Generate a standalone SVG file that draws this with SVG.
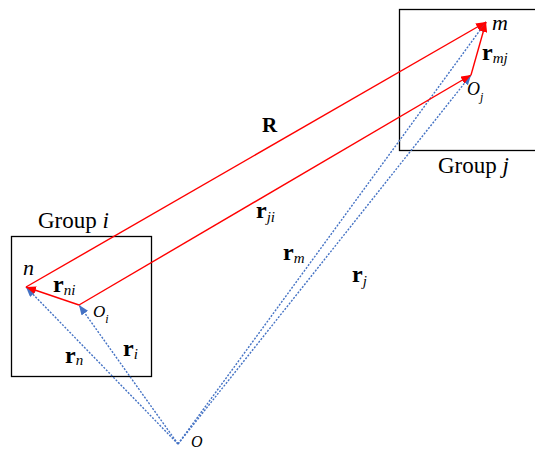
<svg xmlns="http://www.w3.org/2000/svg" width="535" height="450" viewBox="0 0 535 450">
<style>
  text { font-family: "Liberation Serif", "Times New Roman", serif; fill: #000; }
  .it { font-style: italic; }
  .b { font-weight: bold; }
  .sub { font-style: italic; font-weight: normal; font-size: 15px; }
  .box { fill: none; stroke: #000; stroke-width: 1.3; }
  .red { fill: none; stroke: #FF0000; stroke-width: 1.4; marker-end: url(#ar); }
  .blue { fill: none; stroke: #4472C4; stroke-width: 1.4; stroke-dasharray: 2 1.5; marker-end: url(#ab); }
</style>
<defs>
  <marker id="ar" markerUnits="userSpaceOnUse" markerWidth="10" markerHeight="8" refX="10" refY="4" orient="auto">
    <path d="M0,0 L10,4 L0,8 z" fill="#FF0000"/>
  </marker>
  <marker id="ab" markerUnits="userSpaceOnUse" markerWidth="10" markerHeight="8" refX="10" refY="4" orient="auto">
    <path d="M0,0 L10,4 L0,8 z" fill="#4472C4"/>
  </marker>
</defs>
<rect width="535" height="450" fill="#fff"/>
<g id="group-i">
  <rect class="box" x="11.5" y="236.5" width="140" height="140"/>
  <text x="38" y="228" font-size="23">Group <tspan class="it">i</tspan></text>
</g>
<g id="group-j">
  <rect class="box" x="399.5" y="9.5" width="150" height="141"/>
  <text x="438" y="173" font-size="23">Group <tspan class="it">j</tspan></text>
</g>
<g id="connectors">
  <line class="blue" x1="178" y1="444" x2="26" y2="287"/>
  <line class="blue" x1="178" y1="444" x2="79" y2="305"/>
  <line class="blue" x1="178" y1="444" x2="486" y2="22"/>
  <line class="blue" x1="178" y1="444" x2="471" y2="75"/>
  <line class="red" x1="26" y1="287" x2="486" y2="22"/>
  <line class="red" x1="79" y1="305" x2="471" y2="75"/>
  <line class="red" x1="79" y1="305" x2="26" y2="287"/>
  <line class="red" x1="471" y1="75" x2="486" y2="22"/>
</g>
<g id="labels">
  <text class="it" x="23" y="275" font-size="22">n</text>
  <text x="53" y="292" font-size="24" class="b">r<tspan class="sub" dy="3">ni</tspan></text>
  <text class="it" x="93" y="317" font-size="17">O<tspan font-size="12" dy="6">i</tspan></text>
  <text x="65" y="363" font-size="24" class="b">r<tspan class="sub" dy="2">n</tspan></text>
  <text x="123" y="356" font-size="24" class="b">r<tspan class="sub" dy="3">i</tspan></text>
  <text class="it" x="191" y="447" font-size="16">O</text>
  <text class="b" x="262" y="132" font-size="21">R</text>
  <text x="256" y="218" font-size="24" class="b">r<tspan class="sub" dy="4">ji</tspan></text>
  <text x="283" y="260" font-size="24" class="b">r<tspan class="sub" dy="3">m</tspan></text>
  <text x="352" y="282" font-size="24" class="b">r<tspan class="sub" dy="4">j</tspan></text>
  <text class="it" x="492" y="30" font-size="22">m</text>
  <text x="482" y="60" font-size="24" class="b">r<tspan class="sub" dy="3">mj</tspan></text>
  <text class="it" x="467" y="95" font-size="18">O<tspan font-size="12" dy="6">j</tspan></text>
</g>
</svg>
